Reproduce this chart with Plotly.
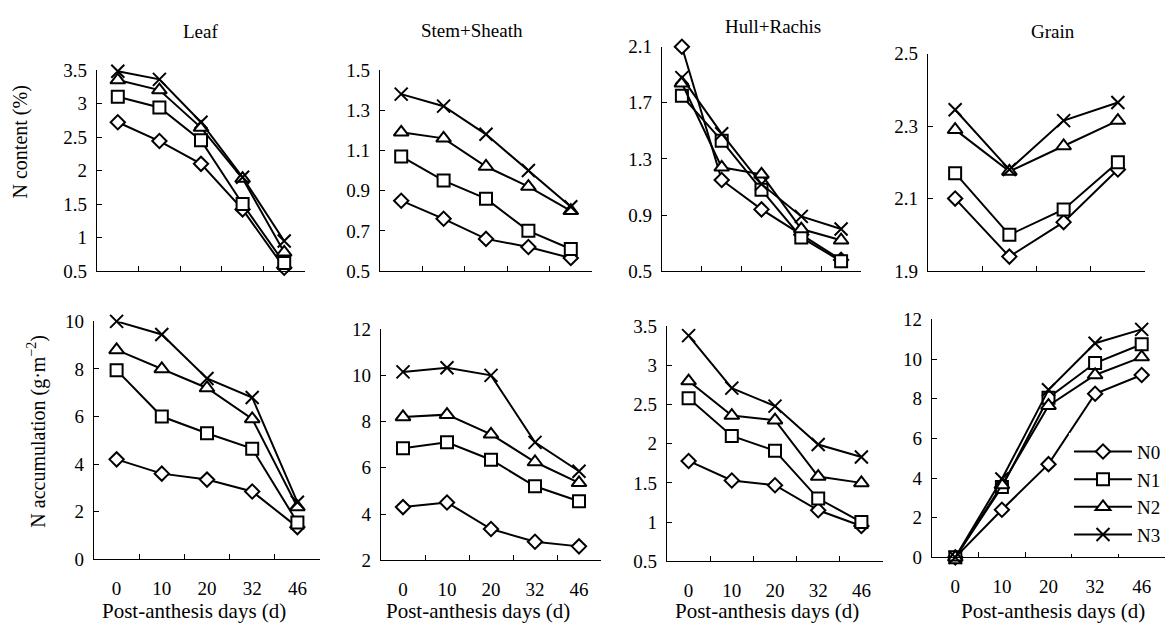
import plotly.graph_objects as go

# ---------------- data ----------------
days = ["0", "10", "20", "32", "46"]
grain_content_days = ["10", "20", "32", "46"]
treatments = ["N0", "N1", "N2", "N3"]

leaf_content_N0 = [2.72, 2.44, 2.10, 1.42, 0.55]
leaf_content_N1 = [3.10, 2.94, 2.45, 1.50, 0.62]
leaf_content_N2 = [3.35, 3.20, 2.64, 1.88, 0.78]
leaf_content_N3 = [3.48, 3.36, 2.72, 1.90, 0.95]

stem_content_N0 = [0.85, 0.76, 0.66, 0.62, 0.565]
stem_content_N1 = [1.07, 0.95, 0.86, 0.70, 0.61]
stem_content_N2 = [1.19, 1.16, 1.02, 0.92, 0.80]
stem_content_N3 = [1.38, 1.32, 1.18, 1.00, 0.82]

hull_content_N0 = [2.10, 1.15, 0.94, 0.76, 0.58]
hull_content_N1 = [1.75, 1.43, 1.08, 0.74, 0.57]
hull_content_N2 = [1.84, 1.24, 1.19, 0.80, 0.72]
hull_content_N3 = [1.88, 1.48, 1.12, 0.89, 0.80]

grain_content_N0 = [2.10, 1.94, 2.035, 2.18]
grain_content_N1 = [2.17, 2.00, 2.07, 2.20]
grain_content_N2 = [2.29, 2.175, 2.245, 2.315]
grain_content_N3 = [2.345, 2.18, 2.315, 2.365]

leaf_acc_N0 = [4.20, 3.60, 3.35, 2.85, 1.35]
leaf_acc_N1 = [7.95, 6.00, 5.30, 4.65, 1.55]
leaf_acc_N2 = [8.80, 8.00, 7.20, 5.90, 2.20]
leaf_acc_N3 = [10.0, 9.45, 7.60, 6.80, 2.40]

stem_acc_N0 = [4.30, 4.50, 3.35, 2.80, 2.60]
stem_acc_N1 = [6.85, 7.10, 6.35, 5.20, 4.55]
stem_acc_N2 = [8.20, 8.30, 7.45, 6.25, 5.35]
stem_acc_N3 = [10.15, 10.33, 10.0, 7.10, 5.85]

hull_acc_N0 = [1.78, 1.53, 1.47, 1.15, 0.95]
hull_acc_N1 = [2.58, 2.10, 1.91, 1.30, 1.00]
hull_acc_N2 = [2.80, 2.36, 2.30, 1.58, 1.50]
hull_acc_N3 = [3.38, 2.71, 2.48, 1.99, 1.83]

grain_acc_N0 = [0.0, 2.40, 4.70, 8.25, 9.20]
grain_acc_N1 = [0.0, 3.55, 8.05, 9.80, 10.75]
grain_acc_N2 = [0.0, 3.65, 7.65, 9.20, 10.10]
grain_acc_N3 = [0.0, 3.95, 8.45, 10.80, 11.50]

panel_titles = ["Leaf", "Stem+Sheath", "Hull+Rachis", "Grain"]
x_title = "Post-anthesis days (d)"
y_title_top = "N content (%)"
y_title_bottom = "N accumulation (g·m<sup>−2</sup>)"

# ---------------- layout helpers ----------------
W, H = 1168, 637
FONT = "Liberation Serif"

# (x0, x1, ytop, ybottom, yrange, tick0, dtick, categories, bottom_row, series)
panels = [
    (97, 305, 62, 270, [0.5, 3.5], 0.5, 0.5, days, False,
     [leaf_content_N0, leaf_content_N1, leaf_content_N2, leaf_content_N3]),
    (380, 592, 62, 270, [0.5, 1.5], 0.5, 0.2, days, False,
     [stem_content_N0, stem_content_N1, stem_content_N2, stem_content_N3]),
    (662, 861, 38, 270, [0.5, 2.1], 0.5, 0.4, days, False,
     [hull_content_N0, hull_content_N1, hull_content_N2, hull_content_N3]),
    (928, 1145, 45, 270, [1.9, 2.5], 1.9, 0.2, grain_content_days, False,
     [grain_content_N0, grain_content_N1, grain_content_N2, grain_content_N3]),
    (94, 320, 322, 568, [0, 10], 0, 2, days, True,
     [leaf_acc_N0, leaf_acc_N1, leaf_acc_N2, leaf_acc_N3]),
    (381, 601, 330, 569, [2, 12], 2, 2, days, True,
     [stem_acc_N0, stem_acc_N1, stem_acc_N2, stem_acc_N3]),
    (667, 883, 327, 570, [0.5, 3.5], 0.5, 0.5, days, True,
     [hull_acc_N0, hull_acc_N1, hull_acc_N2, hull_acc_N3]),
    (932, 1165, 320, 566, [0, 12], 0, 2, days, True,
     [grain_acc_N0, grain_acc_N1, grain_acc_N2, grain_acc_N3]),
]

symbols = ["diamond", "square", "triangle-up", "x-thin"]
sizes = [11, 12, 13, 13]

fig = go.Figure()
layout = dict(
    width=W, height=H,
    margin=dict(l=0, r=0, t=0, b=0),
    paper_bgcolor="white", plot_bgcolor="white",
    font=dict(family=FONT, size=19, color="black"),
    showlegend=True,
    legend=dict(
        x=1069 / W, y=1 - 437 / H, xanchor="left", yanchor="top",
        bgcolor="white", borderwidth=0,
        font=dict(family=FONT, size=19, color="black"),
        itemwidth=58, tracegroupgap=0,
    ),
)

for i, (x0, x1, yt, yb, yr, t0, dt, cats, bottom, series) in enumerate(panels):
    n = i + 1
    xa = "xaxis" if n == 1 else f"xaxis{n}"
    ya = "yaxis" if n == 1 else f"yaxis{n}"
    xref = "x" if n == 1 else f"x{n}"
    yref = "y" if n == 1 else f"y{n}"
    layout[xa] = dict(
        domain=[x0 / W, x1 / W], anchor=yref,
        type="category", categoryorder="array", categoryarray=cats,
        range=[-0.5, len(cats) - 0.5],
        tickson="boundaries", ticks="inside", ticklen=5, tickwidth=1.2,
        tickcolor="black",
        showline=True, linecolor="black", linewidth=1.3,
        showgrid=False, zeroline=False,
        showticklabels=bottom, ticklabelstandoff=12,
        tickfont=dict(family=FONT, size=19, color="black"),
    )
    layout[ya] = dict(
        domain=[1 - yb / H, 1 - yt / H], anchor=xref,
        range=yr, tick0=t0, dtick=dt,
        ticks="inside", ticklen=5, tickwidth=1.2, tickcolor="black",
        showline=True, linecolor="black", linewidth=1.3,
        showgrid=False, zeroline=False, ticklabelstandoff=5,
        tickfont=dict(family=FONT, size=19, color="black"),
    )
    for k, ys in enumerate(series):
        fig.add_trace(go.Scatter(
            x=cats, y=ys, xaxis=xref, yaxis=yref,
            mode="lines+markers", name=treatments[k],
            showlegend=(n == 8), legendgroup=treatments[k],
            cliponaxis=False,
            line=dict(color="black", width=2),
            marker=dict(symbol=symbols[k], size=sizes[k], color="white",
                        line=dict(color="black", width=2)),
        ))

fig.update_layout(**layout)

# panel titles
title_pos = [(200, 22), (472, 21), (773, 17), (1053, 22)]
for t, (px, py) in zip(panel_titles, title_pos):
    fig.add_annotation(text=t, x=px / W, y=1 - py / H, xref="paper", yref="paper",
                       showarrow=False, xanchor="center", yanchor="middle",
                       font=dict(family=FONT, size=19, color="black"))

# x-axis titles
for px in [194, 478, 767, 1053]:
    fig.add_annotation(text=x_title, x=px / W, y=1 - 622 / H, xref="paper", yref="paper",
                       showarrow=False, xanchor="center", yanchor="middle",
                       font=dict(family=FONT, size=21, color="black"))

# y-axis titles
fig.add_annotation(text=y_title_top, x=20 / W, y=1 - 137 / H, xref="paper", yref="paper",
                   showarrow=False, textangle=-90, xanchor="center", yanchor="middle",
                   font=dict(family=FONT, size=20, color="black"))
fig.add_annotation(text=y_title_bottom, x=37 / W, y=1 - 436 / H, xref="paper", yref="paper",
                   showarrow=False, textangle=-90, xanchor="center", yanchor="middle",
                   font=dict(family=FONT, size=20, color="black"))

fig.write_html("out.html", config={"displayModeBar": False},
               post_script="document.body.style.margin='0';")
